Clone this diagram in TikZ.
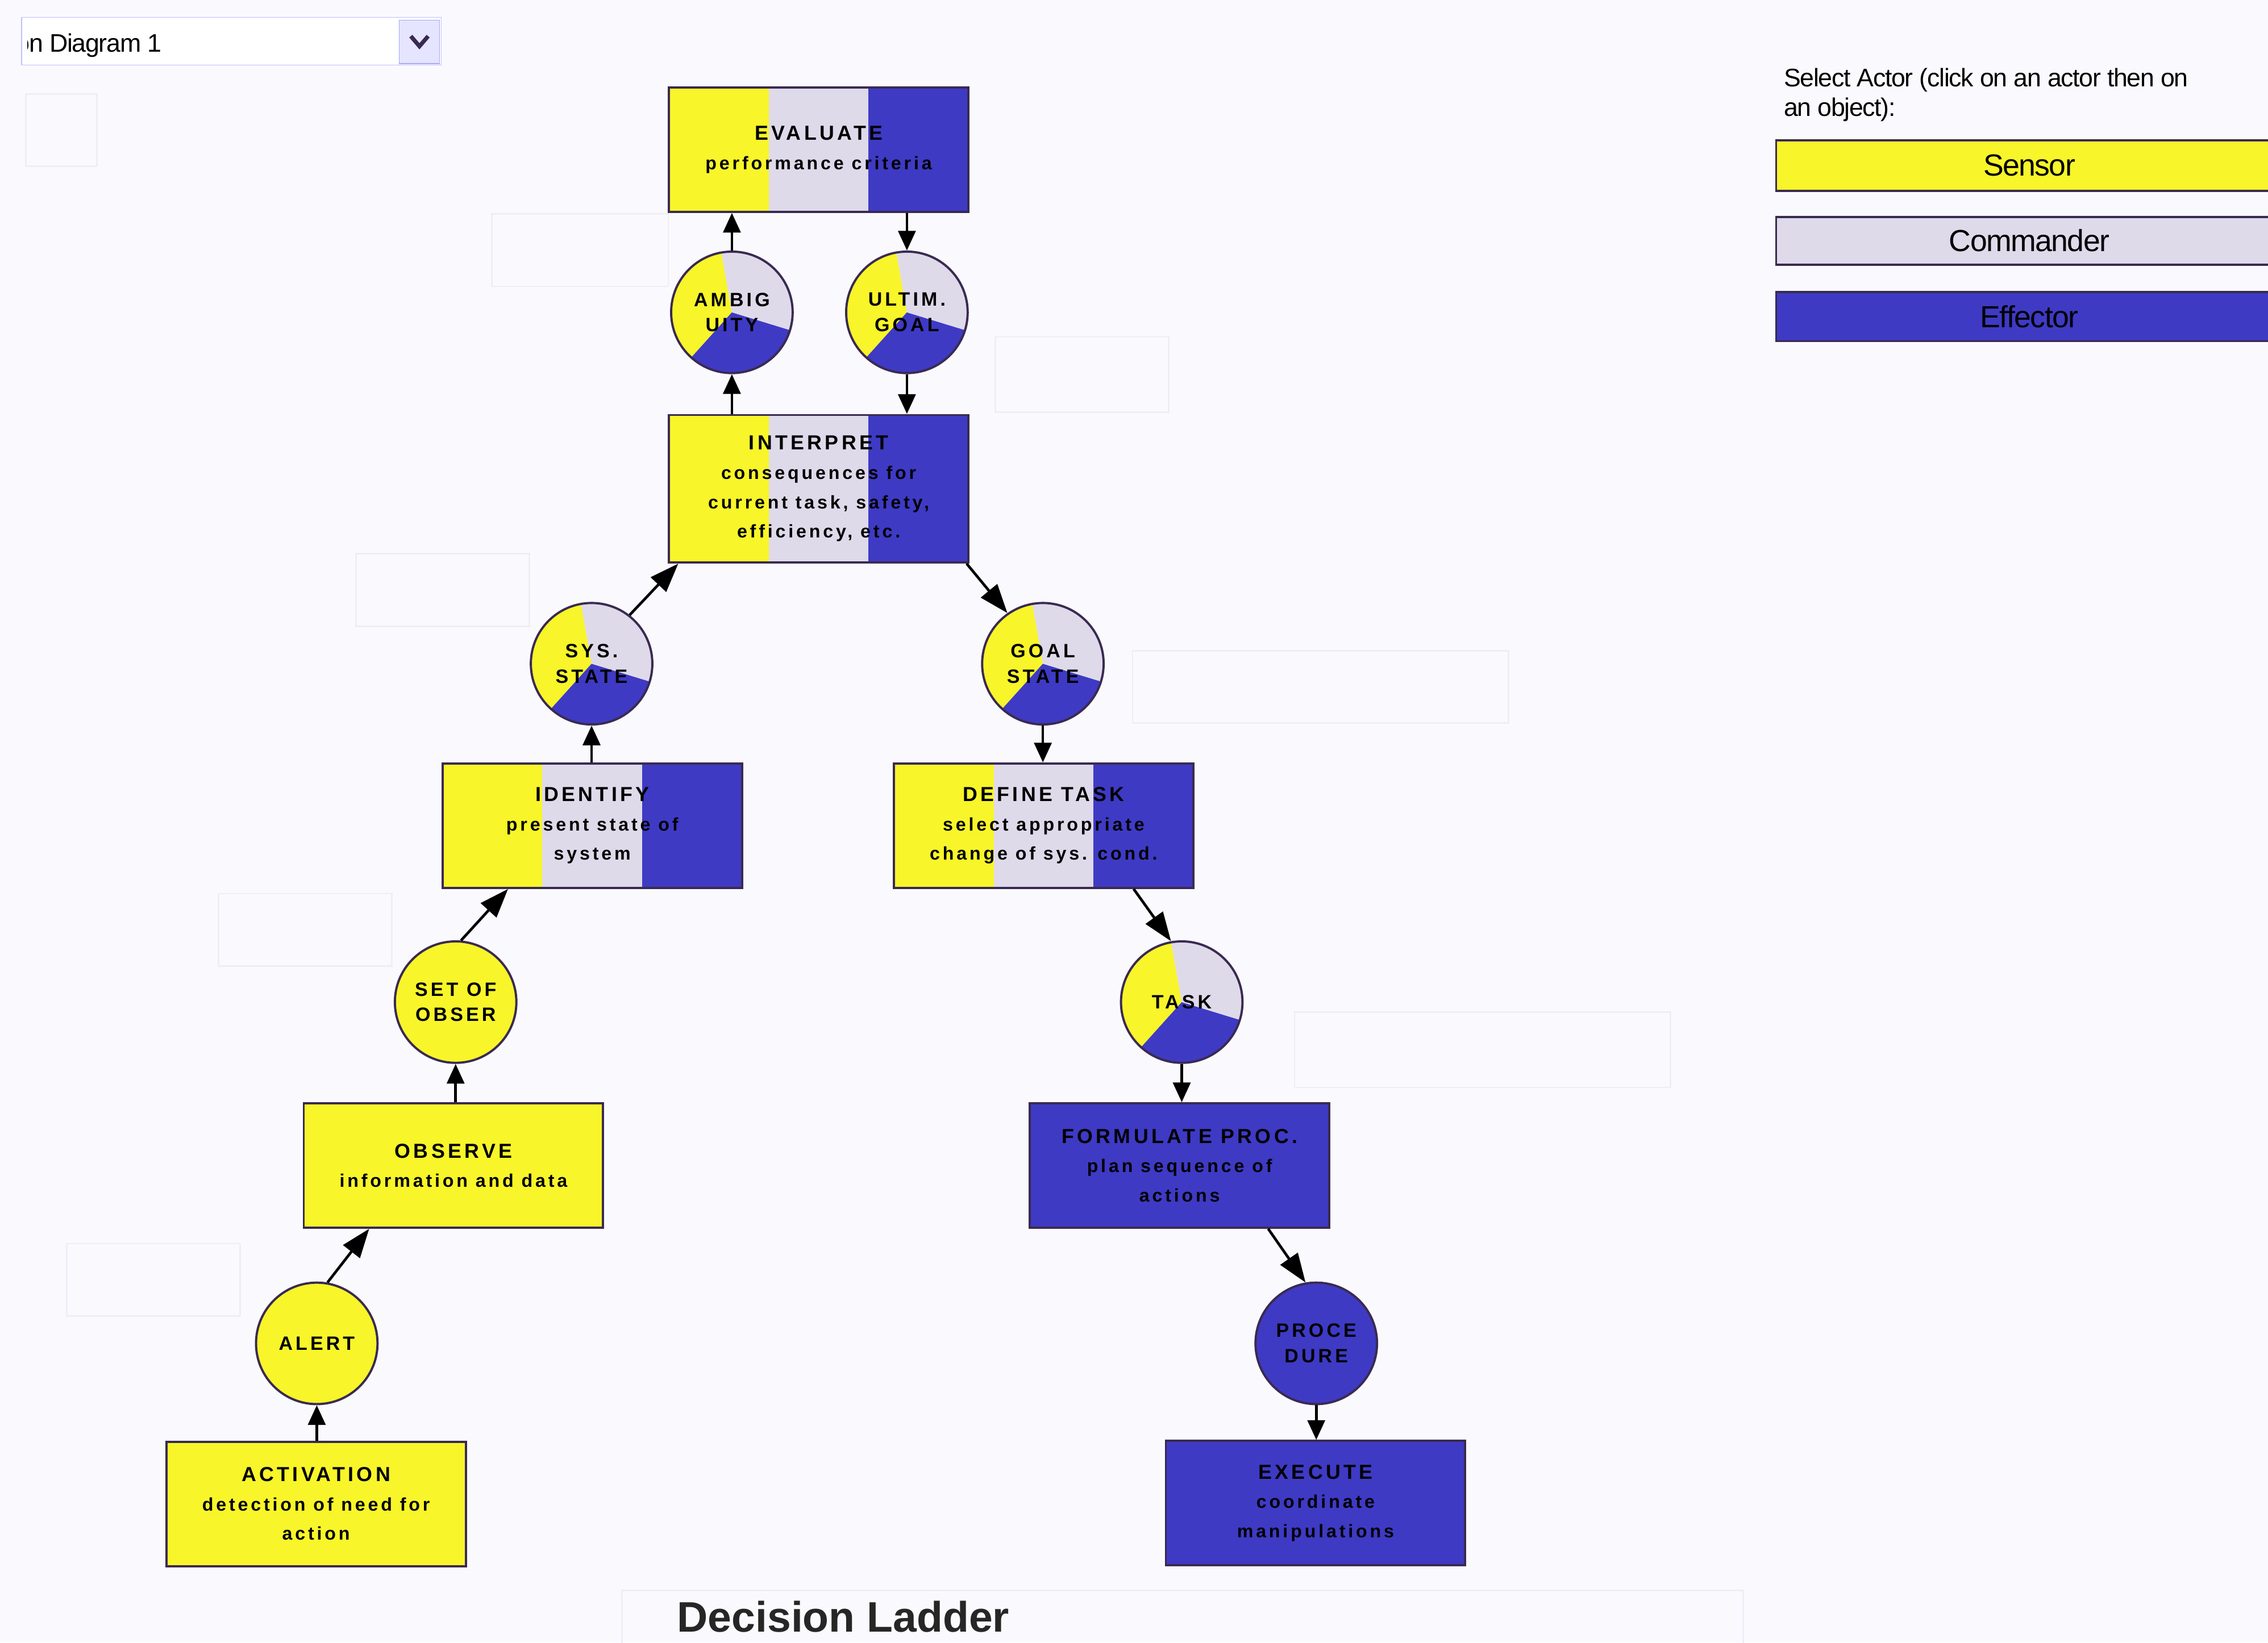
\documentclass[tikz,border=0pt]{standalone}
\usepackage{fontspec}
\setmainfont{Liberation Sans}
\newfontfamily\ladderfont[LetterSpace=15]{Liberation Sans}
\newfontfamily\uifont[LetterSpace=-3]{Liberation Sans}
\usetikzlibrary{arrows.meta,calc}
\definecolor{sensorcol}{RGB}{248,245,42}
\definecolor{commandcol}{RGB}{222,218,234}
\definecolor{effectorcol}{RGB}{62,58,196}
\definecolor{edgecol}{RGB}{58,42,82}
\definecolor{pagecol}{RGB}{250,250,254}
\definecolor{ghostcol}{RGB}{238,238,248}
\newcommand{\stephead}[1]{{\fontsize{10}{14.4}\selectfont #1}}

\tikzset{
    ladderbox/.style={draw=edgecol, line width=1.1pt, rectangle, minimum width=51.75mm,
        minimum height=21.5mm, inner sep=1pt, align=center,
        font=\ladderfont\bfseries\fontsize{9}{14.4}\selectfont},
    tribox/.style={ladderbox, path picture={
        \fill[sensorcol] (path picture bounding box.south west) rectangle ++(17.25mm,30mm);
        \fill[commandcol] ([xshift=17.25mm]path picture bounding box.south west) rectangle ++(17.25mm,30mm);
        \fill[effectorcol] ([xshift=34.5mm]path picture bounding box.south west) rectangle ++(20mm,30mm);
    }},
    state/.style={draw=edgecol, line width=1.1pt, circle, minimum size=21mm, inner sep=0pt,
        align=center, font=\ladderfont\bfseries\fontsize{9.5}{12.5}\selectfont},
    piestate/.style={state, path picture={
        \fill[sensorcol] (path picture bounding box.center) -- ++(100:12mm)
            arc[start angle=100, end angle=228, radius=12mm] -- cycle;
        \fill[effectorcol] (path picture bounding box.center) -- ++(228:12mm)
            arc[start angle=228, end angle=343, radius=12mm] -- cycle;
        \fill[commandcol] (path picture bounding box.center) -- ++(-17:12mm)
            arc[start angle=-17, end angle=100, radius=12mm] -- cycle;
    }},
    up/.style={-{Triangle[length=3.4mm,width=3mm]}, line width=1.3pt},
    slant/.style={-{Triangle[length=5mm,width=3.6mm]}, line width=1.3pt},
    actor/.style={draw=edgecol, line width=1pt, minimum width=87.5mm,
        font=\uifont\fontsize{15}{18}\selectfont},
    ghost/.style={draw=ghostcol, line width=0.8pt}
}

\begin{document}
\begin{tikzpicture}[x=0.25mm, y=-0.25mm]
    \fill[pagecol] (0,0) rectangle (1568,1136);
    \useasboundingbox (0,0) rectangle (1568,1136);

    % faint boxes left behind the ladder
    \draw[ghost] (18,65) rectangle (67,115);
    \draw[ghost] (340,148) rectangle (462,198);
    \draw[ghost] (688,233) rectangle (808,285);
    \draw[ghost] (246,383) rectangle (366,433);
    \draw[ghost] (783,450) rectangle (1043,500);
    \draw[ghost] (151,618) rectangle (271,668);
    \draw[ghost] (895,700) rectangle (1155,752);
    \draw[ghost] (46,860) rectangle (166,910);
    \draw[ghost] (430,1150) |- (1205,1100) -- (1205,1150);

    % diagram selector
    \draw[draw=blue!25, fill=white] (15,12) rectangle (305,45);
    \begin{scope}
        \clip (19,12) rectangle (275,45);
        \node[anchor=base east, font=\uifont\fontsize{12.5}{14}\selectfont, inner sep=0pt]
            (diagname) at (112,36) {Decision Diagram 1};
    \end{scope}
    \draw[draw=blue!35, fill=blue!10] (276,14) rectangle (304,44);
    \draw[line width=2pt, edgecol] (284,25) -- (290,32) -- (296,25);

    % actors
    \node[anchor=north west, align=left, inner sep=0pt,
        font=\uifont\fontsize{12.5}{14.5}\selectfont] (selectlbl) at (1233,47)
        {Select Actor (click on an actor then on\\an object):};
    \node[actor, fill=sensorcol, minimum height=8.75mm] (sensor) at (1403,114.5) {Sensor};
    \node[actor, fill=commandcol, minimum height=8.25mm] (commander) at (1403,166.5) {Commander};
    \node[actor, fill=effectorcol, minimum height=8.5mm] (effector) at (1403,219) {Effector};

    % top of the ladder
    \node[tribox] (evaluate) at (566,103.5) {\stephead{EVALUATE}\\performance criteria};
    \node[piestate] (ambig) at (506,216) {AMBIG\\UITY};
    \node[piestate] (ultim) at (627,216) {ULTIM.\\GOAL};
    \node[tribox, minimum height=25.5mm] (interpret) at (566,338)
        {\stephead{INTERPRET}\\consequences for\\current task, safety,\\efficiency, etc.};

    % left leg
    \node[piestate] (sysstate) at (409,459) {SYS.\\STATE};
    \node[tribox] (identify) at (409.5,571) {\stephead{IDENTIFY}\\present state of\\system};
    \node[state, fill=sensorcol] (setobser) at (315,693) {SET OF\\OBSER};
    \node[ladderbox, fill=sensorcol] (observe) at (313.5,806) {\stephead{OBSERVE}\\information and data};
    \node[state, fill=sensorcol] (alert) at (219,929) {ALERT};
    \node[ladderbox, fill=sensorcol] (activation) at (218.5,1040)
        {\stephead{ACTIVATION}\\detection of need for\\action};

    % right leg
    \node[piestate] (goalstate) at (721,459) {GOAL\\STATE};
    \node[tribox] (definetask) at (721.5,571) {\stephead{DEFINE TASK}\\select appropriate\\change of sys. cond.};
    \node[piestate] (task) at (817,693) {TASK};
    \node[ladderbox, fill=effectorcol] (formulate) at (815.5,806)
        {\stephead{FORMULATE PROC.}\\plan sequence of\\actions};
    \node[state, fill=effectorcol] (procedure) at (910,929) {PROCE\\DURE};
    \node[ladderbox, fill=effectorcol] (execute) at (909.5,1039.5)
        {\stephead{EXECUTE}\\coordinate\\manipulations};

    % links up the left side
    \draw[up] (alert |- activation.north) -- (alert);
    \draw[slant] (alert.80) -- ([xshift=11.5mm]observe.south west);
    \draw[up] (setobser |- observe.north) -- (setobser);
    \draw[slant] (setobser.85) -- ([xshift=11.5mm]identify.south west);
    \draw[up] (sysstate |- identify.north) -- (sysstate);
    \draw[slant] (sysstate.52) -- ([xshift=1.8mm]interpret.south west);
    \draw[up] (ambig |- interpret.north) -- (ambig);
    \draw[up] (ambig) -- (ambig |- evaluate.south);
    % links down the right side
    \draw[up] (ultim |- evaluate.south) -- (ultim);
    \draw[up] (ultim) -- (ultim |- interpret.north);
    \draw[slant] ([xshift=-0.5mm]interpret.south east) -- (goalstate.125);
    \draw[up] (goalstate) -- (goalstate |- definetask.north);
    \draw[slant] ([xshift=-10.5mm]definetask.south east) -- (task.100);
    \draw[up] (task) -- (task |- formulate.north);
    \draw[slant] ([xshift=-10.75mm]formulate.south east) -- (procedure.100);
    \draw[up] (procedure) -- (procedure |- execute.north);

    \node[font=\bfseries\fontsize{21}{24}\selectfont, text=black!85] (laddertitle) at (583,1118) {Decision Ladder};
\end{tikzpicture}
\end{document}
